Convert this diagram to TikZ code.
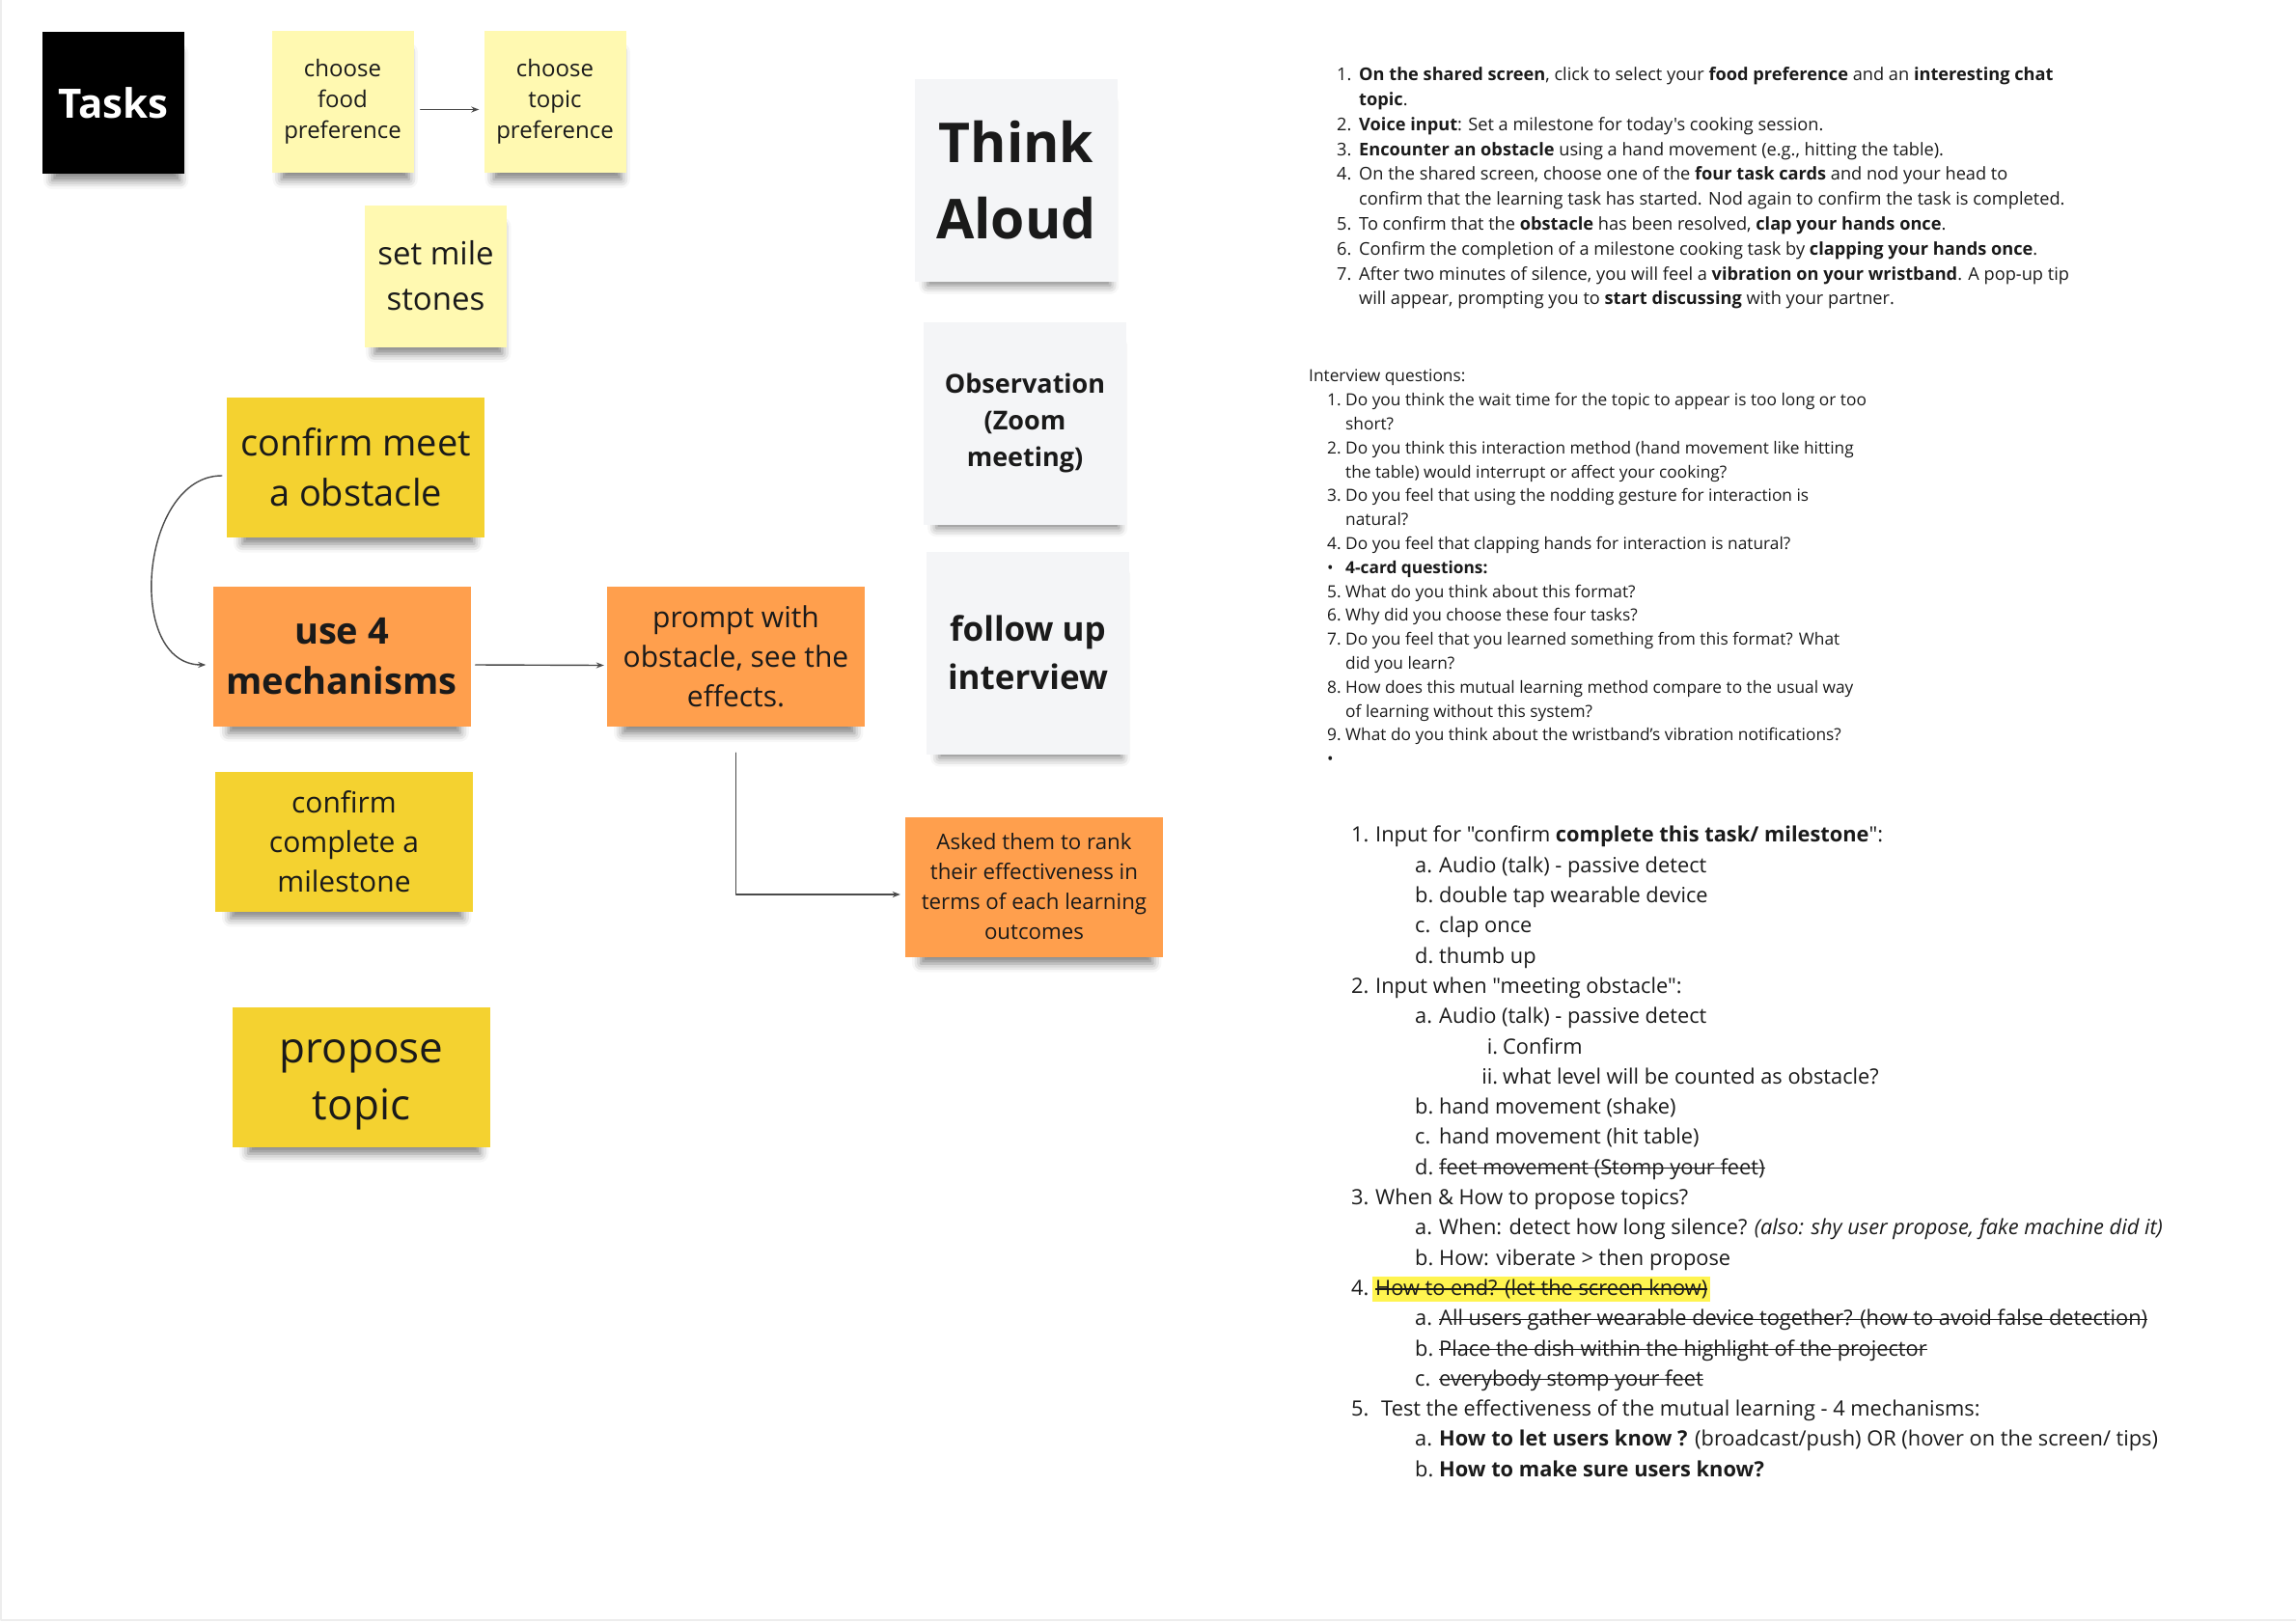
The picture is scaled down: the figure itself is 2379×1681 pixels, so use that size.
\documentclass[tikz,border=0pt]{standalone}
\usepackage{fontspec}
\setmainfont{Open Sans}[Ligatures=TeXOff]
\usetikzlibrary{arrows.meta,shadows.blur}

\definecolor{paleyellow}{HTML}{FFF9B1}
\definecolor{noteyellow}{HTML}{F4D230}
\definecolor{noteorange}{HTML}{FF9F4D}
\definecolor{notegray}{HTML}{F4F5F7}
\definecolor{ink}{HTML}{1A1A1A}
\definecolor{linkgray}{HTML}{4A4A4A}
\definecolor{hlyellow}{HTML}{FFF44F}
\definecolor{framegray}{HTML}{EDEDED}

\newcommand{\fsz}[2]{\fontsize{#1}{#2}\selectfont}
\newcommand{\itemat}[3]{\hspace*{#1pt}\makebox[#2pt][l]{#3}}
\newsavebox{\strikebox}
\newcommand{\strike}[1]{\sbox{\strikebox}{#1}\rlap{\usebox{\strikebox}}\rule[0.27em]{\wd\strikebox}{1.2pt}}

\tikzstyle{every path}=[line cap=round,line join=round]
\tikzstyle{note}=[inner sep=0pt,align=center,text=ink,
  blur shadow={shadow xshift=3pt,shadow yshift=-16pt,shadow scale=0.9,
  shadow blur radius=10pt,shadow opacity=50}]
\tikzstyle{small note}=[note,minimum width=147pt,minimum height=147pt]
\tikzstyle{wide note}=[note,minimum width=267pt,minimum height=145pt]
\tikzstyle{tall note}=[note,minimum width=210pt,minimum height=210pt]
\tikzstyle{link}=[draw=linkgray,line width=1.4pt,-{Stealth[length=8pt,width=6pt]}]
\tikzstyle{listtext}=[anchor=north west,align=left,inner sep=0pt,text=ink]

\begin{document}
\begin{tikzpicture}[x=1pt,y=-1pt]
    \useasboundingbox (0,0) rectangle (2379,1681);
    % faint board edge
    \draw[framegray,line width=2pt] (1,0) -- (1,1679) -- (2379,1679);

    % Tasks and the pale notes
    \node[small note,fill=black,text=white,font=\bfseries\fsz{42}{50}] (tasks) at (117.5,106.5) {Tasks};
    \node[small note,fill=paleyellow,font=\fsz{24}{32}] (food) at (355,105.5) {choose\\food\\preference};
    \node[small note,fill=paleyellow,font=\fsz{24}{32}] (topicpref) at (575,105.5) {choose\\topic\\preference};
    \node[small note,fill=paleyellow,font=\fsz{33}{47}] (mile) at (451.5,286) {set mile\\stones};

    % yellow and orange notes
    \node[wide note,fill=noteyellow,font=\fsz{38}{52}] (obst) at (368.5,484) {confirm meet\\a obstacle};
    \node[wide note,fill=noteorange,font=\bfseries\fsz{38}{52}] (mech) at (354,680) {use 4\\mechanisms};
    \node[wide note,fill=noteorange,font=\fsz{30}{41}] (prompt) at (762.5,680.5) {prompt with\\obstacle, see the\\effects.};
    \node[wide note,fill=noteyellow,font=\fsz{30}{41}] (mstone) at (356.5,872) {confirm\\complete a\\milestone};
    \node[wide note,fill=noteyellow,font=\fsz{44}{59}] (propose) at (374.5,1116) {\rule{0pt}{0.92em}propose\\topic};
    \node[wide note,fill=noteorange,font=\fsz{22.3}{31}] (rank) at (1071.5,919) {Asked them to rank\\their effectiveness in\\terms of each learning\\outcomes};

    % methods column
    \node[tall note,fill=notegray,font=\bfseries\fsz{57}{79}] (think) at (1053,187) {Think\\Aloud};
    \node[tall note,fill=notegray,font=\bfseries\fsz{27}{38}] (observ) at (1062,438.5) {Observation\\(Zoom\\meeting)};
    \node[tall note,fill=notegray,font=\bfseries\fsz{35}{50}] (follow) at (1065,676.5) {follow up\\interview};

    % connectors
    \draw[link] ([xshift=7pt,yshift=-8pt]food.east) -- ([xshift=-5pt,yshift=-8pt]topicpref.west);
    \draw[link] ([xshift=-5pt,yshift=-9pt]obst.west) to[out=180,in=180,looseness=1.1] ([xshift=-7pt,yshift=-9pt]mech.west);
    \draw[link] ([xshift=5pt,yshift=-9pt]mech.east) -- ([xshift=-3pt,yshift=-9pt]prompt.west);
    \draw[link] ([yshift=-27pt]prompt.south) |- ([xshift=-5pt,yshift=-8pt]rank.west);

    % study steps
    \node[listtext,font=\fsz{18.2}{25.8}] (steps) at (1385,69.5) {%
      \itemat{0}{23}{1.}\textbf{On the shared screen}, click to select your \textbf{food preference} and an \textbf{interesting chat}\\
      \itemat{23}{0}{}\textbf{topic}.\\
      \itemat{0}{23}{2.}\textbf{Voice input}: Set a milestone for today's cooking session.\\
      \itemat{0}{23}{3.}\textbf{Encounter an obstacle} using a hand movement (e.g., hitting the table).\\
      \itemat{0}{23}{4.}On the shared screen, choose one of the \textbf{four task cards} and nod your head to\\
      \itemat{23}{0}{}confirm that the learning task has started. Nod again to confirm the task is completed.\\
      \itemat{0}{23}{5.}To confirm that the \textbf{obstacle} has been resolved, \textbf{clap your hands once}.\\
      \itemat{0}{23}{6.}Confirm the completion of a milestone cooking task by \textbf{clapping your hands once}.\\
      \itemat{0}{23}{7.}After two minutes of silence, you will feel a \textbf{vibration on your wristband}. A pop-up tip\\
      \itemat{23}{0}{}will appear, prompting you to \textbf{start discussing} with your partner.};

    % interview questions
    \node[listtext,font=\fsz{17.3}{24.8}] (questions) at (1356,383) {%
      Interview questions:\\
      \itemat{19}{19}{1.}Do you think the wait time for the topic to appear is too long or too\\
      \itemat{38}{0}{}short?\\
      \itemat{19}{19}{2.}Do you think this interaction method (hand movement like hitting\\
      \itemat{38}{0}{}the table) would interrupt or affect your cooking?\\
      \itemat{19}{19}{3.}Do you feel that using the nodding gesture for interaction is\\
      \itemat{38}{0}{}natural?\\
      \itemat{19}{19}{4.}Do you feel that clapping hands for interaction is natural?\\
      \itemat{19}{19}{•}\textbf{4-card questions:}\\
      \itemat{19}{19}{5.}What do you think about this format?\\
      \itemat{19}{19}{6.}Why did you choose these four tasks?\\
      \itemat{19}{19}{7.}Do you feel that you learned something from this format? What\\
      \itemat{38}{0}{}did you learn?\\
      \itemat{19}{19}{8.}How does this mutual learning method compare to the usual way\\
      \itemat{38}{0}{}of learning without this system?\\
      \itemat{19}{19}{9.}What do you think about the wristband’s vibration notifications?\\
      \itemat{19}{19}{•}};

    % input mechanisms
    \node[listtext,font=\fsz{21.8}{31.3}] (inputs) at (1400,856) {%
      \itemat{0}{25}{1.}Input for "confirm \textbf{complete this task/ milestone}":\\
      \itemat{66}{25}{a.}Audio (talk) - passive detect\\
      \itemat{66}{25}{b.}double tap wearable device\\
      \itemat{66}{25}{c.}clap once\\
      \itemat{66}{25}{d.}thumb up\\
      \itemat{0}{25}{2.}Input when "meeting obstacle":\\
      \itemat{66}{25}{a.}Audio (talk) - passive detect\\
      \hspace*{122pt}\makebox[30pt][r]{i.}\hspace{5pt}Confirm\\
      \hspace*{122pt}\makebox[30pt][r]{ii.}\hspace{5pt}what level will be counted as obstacle?\\
      \itemat{66}{25}{b.}hand movement (shake)\\
      \itemat{66}{25}{c.}hand movement (hit table)\\
      \itemat{66}{25}{d.}\strike{feet movement (Stomp your feet)}\\
      \itemat{0}{25}{3.}When \& How to propose topics?\\
      \itemat{66}{25}{a.}When: detect how long silence? \textit{(also: shy user propose, fake machine did it)}\\
      \itemat{66}{25}{b.}How: viberate > then propose\\
      \itemat{0}{25}{4.}\hspace{-3pt}{\fboxsep=3pt\colorbox{hlyellow}{\strike{How to end? (let the screen know)}}}\\
      \itemat{66}{25}{a.}\strike{All users gather wearable device together? (how to avoid false detection)}\\
      \itemat{66}{25}{b.}\strike{Place the dish within the highlight of the projector}\\
      \itemat{66}{25}{c.}\strike{everybody stomp your feet}\\
      \itemat{0}{25}{5.}\hspace{6pt}Test the effectiveness of the mutual learning - 4 mechanisms:\\
      \itemat{66}{25}{a.}\textbf{How to let users know ?} (broadcast/push) OR (hover on the screen/ tips)\\
      \itemat{66}{25}{b.}\textbf{How to make sure users know?}};
\end{tikzpicture}
\end{document}
